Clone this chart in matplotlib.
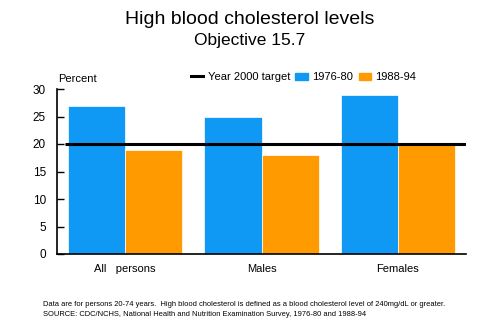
import matplotlib
matplotlib.use('Agg')
import matplotlib.pyplot as plt
from matplotlib.lines import Line2D
from matplotlib.patches import Patch

plt.rcParams['font.family'] = ['Liberation Sans', 'DejaVu Sans']

categories = ['All   persons', 'Males', 'Females']
vals_1976 = [27, 25, 29]
vals_1988 = [19, 18, 20]
target = 20
yticks = [0, 5, 10, 15, 20, 25, 30]

BLUE = '#0F99F5'
ORANGE = '#FF9A00'

fig = plt.figure(figsize=(5, 3.33), dpi=100)
ax = fig.add_axes([57/500, 1-254/333, (466-57)/500, (254-89)/333])

x = list(range(len(categories)))
w = 0.42
ax.bar([i - w/2 for i in x], vals_1976, width=w, color=BLUE, edgecolor='white', linewidth=0.5)
ax.bar([i + w/2 for i in x], vals_1988, width=w, color=ORANGE, edgecolor='white', linewidth=0.5)
ax.plot([-0.44, 2.5], [target, target], color='black', lw=2.2, solid_capstyle='butt')

ax.set_xlim(-0.5, 2.5)
ax.set_ylim(0, 30)
ax.set_yticks(yticks)
ax.set_xticks(x)
ax.set_xticklabels(categories, fontsize=8)
ax.tick_params(axis='x', length=0, pad=7)
ax.tick_params(axis='y', direction='in', length=5, width=1, labelsize=8.5, pad=8)
for s in ['top', 'right']:
    ax.spines[s].set_visible(False)
ax.spines['left'].set_linewidth(1.2)
ax.spines['bottom'].set_linewidth(1.2)

fig.text(0.5, 1-20/333, 'High blood cholesterol levels', ha='center', va='center', fontsize=14)
fig.text(0.5, 1-41/333, 'Objective 15.7', ha='center', va='center', fontsize=12.5)
fig.text(58/500, 1-79/333, 'Percent', ha='left', va='center', fontsize=8)

handles = [Line2D([0], [0], color='black', lw=2.2),
           Patch(color=BLUE), Patch(color=ORANGE)]
labels = ['Year 2000 target', '1976-80', '1988-94']
fig.legend(handles, labels, loc='center', bbox_to_anchor=(0.607, 1-77/333), ncol=3,
           frameon=False, fontsize=8, handlelength=1.1, handleheight=0.6,
           columnspacing=0.5, handletextpad=0.4)

fig.text(43/500, 1-305/333, 'Data are for persons 20-74 years.  High blood cholesterol is defined as a blood cholesterol level of 240mg/dL or greater.',
         ha='left', va='center', fontsize=5.45)
fig.text(43/500, 1-315/333, 'SOURCE: CDC/NCHS, National Health and Nutrition Examination Survey, 1976-80 and 1988-94',
         ha='left', va='center', fontsize=5.45)

fig.savefig('out.png', dpi=100)
